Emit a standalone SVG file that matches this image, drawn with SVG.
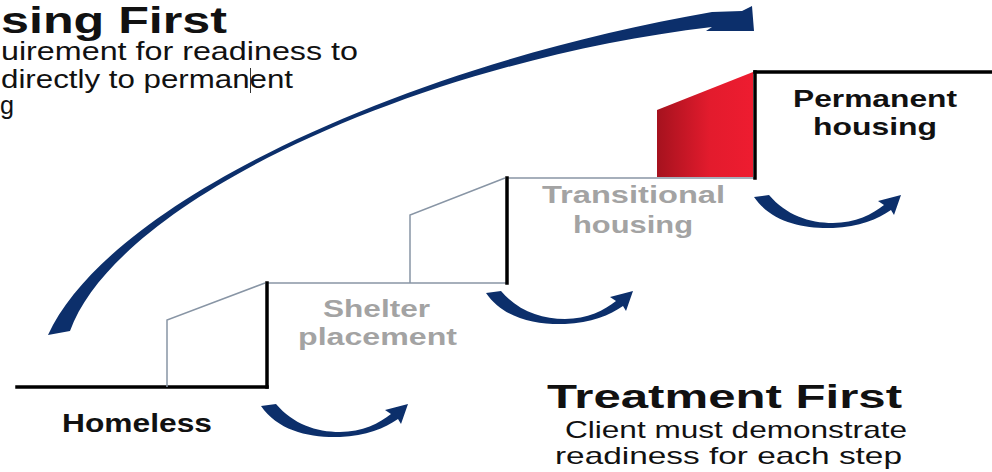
<svg xmlns="http://www.w3.org/2000/svg" xmlns:xlink="http://www.w3.org/1999/xlink" width="992" height="472" viewBox="0 0 992 472">
  <style>
    .t { font-family: "Liberation Sans", Arial, Helvetica, sans-serif; }
    .b { font-weight: bold; }
    .blk { fill: #111111; }
    .gry { fill: #a3a3a3; }
    .thick { stroke: #000000; stroke-width: 3.5; fill: none; stroke-linecap: square; }
    .thin { stroke: #8895a5; stroke-width: 1.5; fill: none; }
    .navy { fill: #0c2f6b; }
  </style>
  <defs>
    <linearGradient id="redGrad" x1="0" y1="0" x2="1" y2="0">
      <stop offset="0" stop-color="#a5121e"/>
      <stop offset="0.55" stop-color="#e31b2d"/>
      <stop offset="1" stop-color="#ee1c30"/>
    </linearGradient>
    <path id="uarrow" d="M 261,406 C 278,431 310,438 340,437 C 366,436 385,428 398,419 L 401,424 L 408,404 L 385,410 L 391,414 C 380,423 362,432 340,432 C 316,432 293,424 276,404 Z"/>
  </defs>
  <rect width="992" height="472" fill="#ffffff"/>

  <g id="housing-first-text">
    <text class="t b blk" x="1" y="33" font-size="37" textLength="226" lengthAdjust="spacingAndGlyphs">sing First</text>
    <text class="t blk" x="1" y="60" font-size="25" textLength="357" lengthAdjust="spacingAndGlyphs">uirement for readiness to</text>
    <text class="t blk" x="1" y="88" font-size="25" textLength="292" lengthAdjust="spacingAndGlyphs">directly to permanent</text>
    <text class="t blk" x="0" y="114" font-size="25" textLength="14" lengthAdjust="spacingAndGlyphs">g</text>
    <line x1="250.5" y1="68" x2="250.5" y2="93" stroke="#333333" stroke-width="1"/>
  </g>

  <g id="step-homeless">
    <line class="thick" x1="17" y1="387" x2="267" y2="387"/>
    <text class="t b blk" x="62" y="432" font-size="26" textLength="150" lengthAdjust="spacingAndGlyphs">Homeless</text>
  </g>

  <g id="step-shelter">
    <polyline class="thin" points="167,387 167,320 265,283"/>
    <line class="thin" x1="267" y1="283" x2="507" y2="283"/>
    <line class="thick" x1="267" y1="283" x2="267" y2="387"/>
    <text class="t b gry" x="323" y="317" font-size="24" textLength="107" lengthAdjust="spacingAndGlyphs">Shelter</text>
    <text class="t b gry" x="298" y="345" font-size="24" textLength="159" lengthAdjust="spacingAndGlyphs">placement</text>
  </g>

  <g id="step-transitional">
    <polyline class="thin" points="410,283 410,215 505,178"/>
    <line class="thin" x1="507" y1="178" x2="755" y2="178"/>
    <line class="thick" x1="507" y1="178" x2="507" y2="283"/>
    <text class="t b gry" x="542" y="203" font-size="24" textLength="183" lengthAdjust="spacingAndGlyphs">Transitional</text>
    <text class="t b gry" x="573" y="233" font-size="24" textLength="120" lengthAdjust="spacingAndGlyphs">housing</text>
  </g>

  <g id="step-permanent">
    <polygon points="657,110 753,72 753,177 657,177" fill="url(#redGrad)"/>
    <line class="thick" x1="755" y1="72" x2="992" y2="72"/>
    <line class="thick" x1="755" y1="72" x2="755" y2="178"/>
    <text class="t b blk" x="793" y="107" font-size="24" textLength="164" lengthAdjust="spacingAndGlyphs">Permanent</text>
    <text class="t b blk" x="813" y="135" font-size="24" textLength="124" lengthAdjust="spacingAndGlyphs">housing</text>
  </g>

  <g id="treatment-first-text">
    <text class="t b blk" x="547" y="408" font-size="34" textLength="355" lengthAdjust="spacingAndGlyphs">Treatment First</text>
    <text class="t blk" x="565" y="438" font-size="24" textLength="342" lengthAdjust="spacingAndGlyphs">Client must demonstrate</text>
    <text class="t blk" x="555" y="464" font-size="24" textLength="347" lengthAdjust="spacingAndGlyphs">readiness for each step</text>
  </g>

  <g id="connectors">
    <path id="housing-first-arrow" class="navy" d="M 48,335 C 110,200 410,64 712,12 L 742,11 L 752,6 L 754,31 L 706,31 L 712,27 C 410,63 116,203 70,331 Z"/>
    <use id="arrow-homeless-shelter" xlink:href="#uarrow" href="#uarrow" class="navy"/>
    <use id="arrow-shelter-transitional" xlink:href="#uarrow" href="#uarrow" class="navy" transform="translate(225,-113)"/>
    <use id="arrow-transitional-permanent" xlink:href="#uarrow" href="#uarrow" class="navy" transform="translate(493,-209)"/>
  </g>
</svg>
